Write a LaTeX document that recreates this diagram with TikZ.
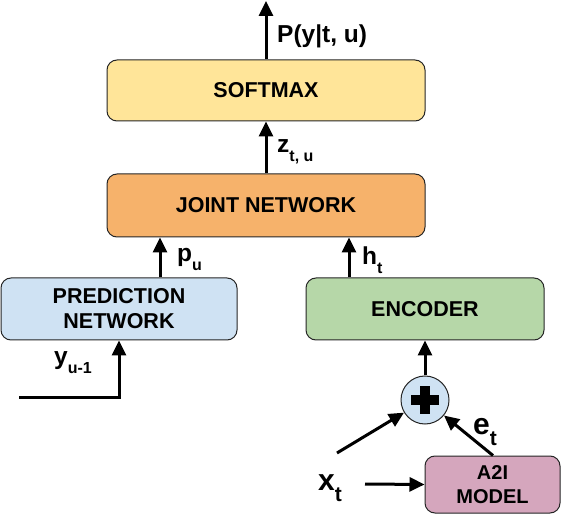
\documentclass[tikz,border=0pt]{standalone}
\usepackage{fontspec}
\setmainfont{Liberation Sans}
\usetikzlibrary{arrows.meta}
\definecolor{cyellow}{HTML}{FFE599}
\definecolor{corange}{HTML}{F6B26B}
\definecolor{cblue}{HTML}{CFE2F3}
\definecolor{cgreen}{HTML}{B6D7A8}
\definecolor{cpink}{HTML}{D5A6BD}
\newcommand\lsub[1]{\raisebox{-9pt}{\fontsize{16}{16}\selectfont #1}}
\newcommand\bsub[1]{\raisebox{-11pt}{\fontsize{21}{21}\selectfont #1}}
\tikzset{
  box/.style={draw=black!85, line width=1pt, rounded corners=10pt, inner sep=0pt,
    font=\fontsize{21.5}{25}\selectfont\bfseries, align=center},
  arr/.style={line width=3pt, -{Triangle[length=15pt,width=14pt]}},
  lbl/.style={inner sep=0pt, font=\fontsize{24.5}{24}\selectfont\bfseries},
  blbl/.style={inner sep=0pt, font=\fontsize{30}{30}\selectfont\bfseries},
}
\begin{document}
\begin{tikzpicture}[x=1pt,y=-1pt]
\useasboundingbox (0,0) rectangle (581,526);
\node[box, fill=cyellow, minimum width=318pt, minimum height=61pt] (soft) at (266,90.5) {SOFTMAX};
\node[box, fill=corange, minimum width=318pt, minimum height=63pt] (joint) at (266,205.5) {JOINT NETWORK};
\node[box, fill=cblue, minimum width=236pt, minimum height=62pt] (pred) at (119,309) {PREDICTION\\NETWORK};
\node[box, fill=cgreen, minimum width=238pt, minimum height=62pt] (enc) at (425,309) {ENCODER};
\node[box, fill=cpink, minimum width=135pt, minimum height=57pt, font=\fontsize{20}{24}\selectfont\bfseries] (a2i) at (492.5,484.5) {A2I\\MODEL};
\node[draw=black!85, line width=1pt, circle, fill=cblue, minimum size=48pt, inner sep=0pt] (plus) at (425,400) {};
\fill[black] (plus.center) ++(-14,-5) rectangle ++(28,10);
\fill[black] (plus.center) ++(-5,-14) rectangle ++(10,28);

\coordinate (out) at (266,1);
\draw[arr] (soft.north) -- (out);
\node[lbl, anchor=base west] (lp) at (277,43) {P(y|t, u)};
\draw[arr] (joint.north) -- (soft.south);
\node[lbl, anchor=base west] (lz) at (277,153) {z\lsub{t, u}};

\coordinate (px) at (160,0);
\coordinate (hx) at (349,0);
\draw[arr] (pred.north -| px) -- (joint.south -| px);
\node[lbl, anchor=base west] (lpu) at (177,262) {p\lsub{u}};
\draw[arr] (enc.north -| hx) -- (joint.south -| hx);
\node[lbl, anchor=base west] (lht) at (362,265) {h\lsub{t}};

\coordinate (ys) at (19,398);
\draw[arr] (ys) -| (pred.south);
\node[lbl, anchor=base west] (ly) at (54,365) {y\lsub{u-1}};

\draw[arr] (plus.north) -- (enc.south);
\coordinate (xin) at (337,453);
\draw[arr] (xin) -- (plus);
\coordinate (ex) at (493,0);
\draw[arr] (a2i.north -| ex) -- (plus);
\node[blbl, anchor=base west] (le) at (473,435) {e\bsub{t}};
\coordinate (xs) at (365,484);
\draw[arr] (xs) -- (a2i.west);
\node[blbl, anchor=base west] (lx) at (318,490) {x\bsub{t}};
\end{tikzpicture}
\end{document}
